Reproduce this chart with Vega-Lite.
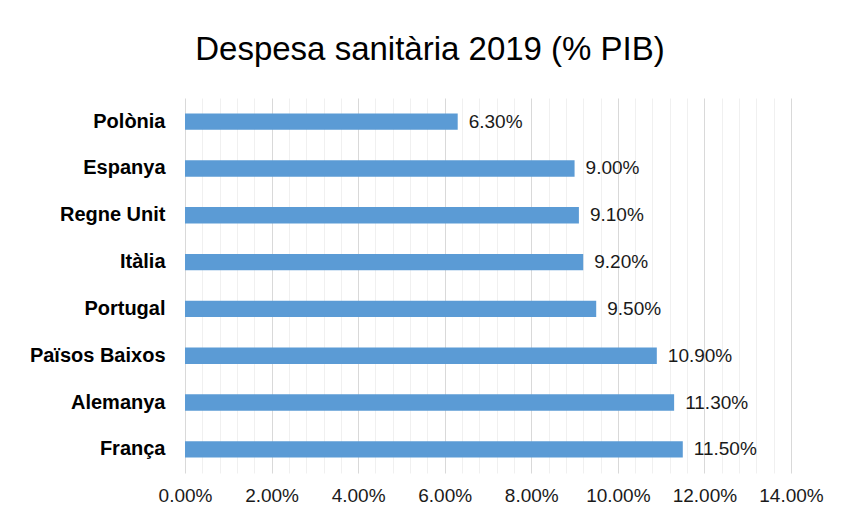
{
  "$schema": "https://vega.github.io/schema/vega-lite/v6.json",
  "width": 606,
  "height": 375,
  "padding": {"left": 29, "top": 34, "right": 20, "bottom": 5},
  "background": "white",
  "title": {
    "text": "Despesa sanitària 2019 (% PIB)",
    "font": "Liberation Sans",
    "fontSize": 33,
    "fontWeight": "normal",
    "color": "#000000",
    "anchor": "middle",
    "offset": 31,
    "dx": -58
  },
  "config": {
    "view": {"stroke": null},
    "font": "Liberation Sans"
  },
  "data": {
    "values": [
      {"pais": "Polònia", "valor": 0.063},
      {"pais": "Espanya", "valor": 0.090},
      {"pais": "Regne Unit", "valor": 0.091},
      {"pais": "Itàlia", "valor": 0.092},
      {"pais": "Portugal", "valor": 0.095},
      {"pais": "Països Baixos", "valor": 0.109},
      {"pais": "Alemanya", "valor": 0.113},
      {"pais": "França", "valor": 0.115}
    ]
  },
  "encoding": {
    "y": {
      "field": "pais",
      "type": "nominal",
      "sort": null,
      "scale": {"paddingInner": 0.65, "paddingOuter": 0.33},
      "axis": {
        "title": null,
        "domain": false,
        "ticks": false,
        "labelFont": "Liberation Sans",
        "labelFontSize": 20,
        "labelFontWeight": "bold",
        "labelColor": "#000000",
        "labelPadding": 20
      }
    }
  },
  "layer": [
    {
      "mark": {"type": "bar", "color": "#5b9bd5"},
      "encoding": {
        "x": {
          "field": "valor",
          "type": "quantitative",
          "scale": {"domain": [0, 0.14], "nice": false},
          "axis": {
            "orient": "top",
            "values": [0.004, 0.008, 0.012, 0.016, 0.024, 0.028, 0.032, 0.036, 0.044, 0.048, 0.052, 0.056, 0.064, 0.068, 0.072, 0.076, 0.084, 0.088, 0.092, 0.096, 0.104, 0.108, 0.112, 0.116, 0.124, 0.128, 0.132, 0.136],
            "grid": true,
            "gridColor": "#f0f0f0",
            "gridWidth": 1,
            "labels": false,
            "ticks": false,
            "domain": false,
            "title": null
          }
        }
      }
    },
    {
      "mark": {"type": "text", "align": "left", "dx": 11, "font": "Liberation Sans", "fontSize": 19, "color": "#1a1a1a"},
      "encoding": {
        "x": {
          "field": "valor",
          "type": "quantitative",
          "scale": {"domain": [0, 0.14], "nice": false},
          "axis": {
            "orient": "bottom",
            "values": [0, 0.02, 0.04, 0.06, 0.08, 0.10, 0.12, 0.14],
            "format": ".2%",
            "grid": true,
            "gridColor": "#d9d9d9",
            "gridWidth": 1,
            "ticks": false,
            "domain": false,
            "title": null,
            "labelFlush": false,
            "labelOverlap": false,
            "labelFont": "Liberation Sans",
            "labelFontSize": 19,
            "labelColor": "#1a1a1a",
            "labelPadding": 13
          }
        },
        "text": {"field": "valor", "type": "quantitative", "format": ".2%"}
      }
    }
  ],
  "resolve": {"axis": {"x": "independent"}}
}
